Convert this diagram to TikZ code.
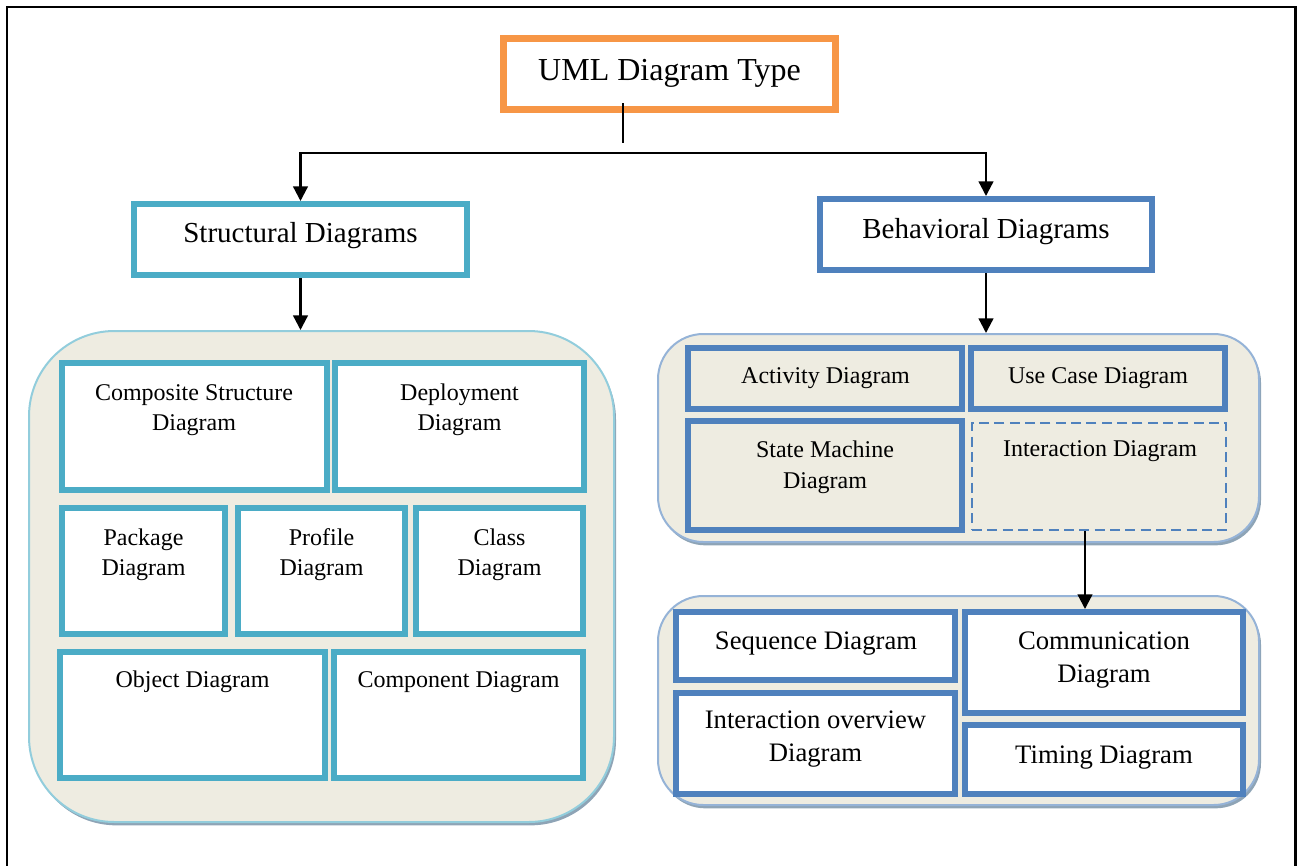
\documentclass[tikz,border=0pt]{standalone}
\usepackage{fontspec}
\setmainfont{Liberation Serif}
\usetikzlibrary{arrows.meta,shadows}
\definecolor{orangeB}{HTML}{F79646}
\definecolor{tealB}{HTML}{4BACC6}
\definecolor{blueB}{HTML}{4F81BD}
\definecolor{beige}{HTML}{EEECE1}
\definecolor{tealL}{HTML}{92CDDC}
\definecolor{blueL}{HTML}{95B3D7}
\definecolor{shade}{HTML}{8EA4B6}
\begin{document}
\begin{tikzpicture}[x=0.75pt,y=-0.75pt,
  sz/.style 2 args={minimum width=#1*0.75pt, minimum height=#2*0.75pt},
  bx/.style={draw, inner sep=0pt, line width=4.5pt},
  titlebox/.style={bx, draw=orangeB, line width=5.25pt, fill=white},
  tealbox/.style={bx, draw=tealB, fill=white},
  bluebox/.style={bx, draw=blueB, fill=white},
  bluebeige/.style={bx, draw=blueB, fill=beige},
  dashbox/.style={draw=blueB, line width=1.6pt, dash pattern=on 7.5pt off 4pt, fill=beige, inner sep=0pt},
  cont/.style={draw, line width=1.5pt, fill=beige, inner sep=0pt,
    general shadow={shadow xshift=1.5pt, shadow yshift=-2.5pt, fill=shade}},
  txt/.style={inner sep=0pt, anchor=base, align=center, font=\fontsize{18pt}{22.5pt}\selectfont},
  txtb/.style={inner sep=0pt, anchor=base, align=center, font=\fontsize{20pt}{24.75pt}\selectfont},
  txth/.style={inner sep=0pt, anchor=base, font=\fontsize{21.75pt}{26pt}\selectfont},
  conn/.style={line width=1.7pt, black},
  tip/.style={-{Triangle[length=11pt,width=11pt]}}
]
\useasboundingbox (0,0) rectangle (1300,865);
% frame
\draw[line width=2pt] (7,870) -- (7,7) -- (1295.5,7) -- (1295.5,870);

% top level
\node[titlebox, sz={332}{71}] (uml) at (669.5,74) {};
\node[inner sep=0pt, anchor=base, font=\fontsize{24pt}{28pt}\selectfont] (umlt) at (669.5,80) {UML Diagram Type};

\node[tealbox, sz={333}{71}] (struct) at (300.5,239.5) {};
\node[txth] (structt) at (300.5,242) {Structural Diagrams};
\node[bluebox, sz={332}{71}] (behav) at (986,234.5) {};
\node[txth] (behavt) at (986,238) {Behavioral Diagrams};

% connectors from top
\coordinate (vtop) at (623,103);
\coordinate (vbot) at (623,143);
\coordinate (hy) at (623,153);
\draw[conn] (vtop) -- (vbot);
\draw[conn, {Triangle[length=11pt,width=11pt]}-{Triangle[length=11pt,width=11pt]}]
  (struct.north) -- (struct.north |- hy) -- (behav.north |- hy) -- (behav.north);

% containers
\node[cont, draw=tealL, sz={585}{491}, rounded corners=64pt] (lc) at (321.5,576.5) {};
\node[cont, draw=blueL, sz={601}{208}, rounded corners=34pt] (ruc) at (958.5,438) {};
\node[cont, draw=blueL, sz={601}{209}, rounded corners=34pt] (rlc) at (958.5,700.5) {};

\draw[conn, tip] (struct.south) -- (struct.south |- lc.north);
\draw[conn, tip] (behav.south) -- (behav.south |- ruc.north);

% structural children
\node[tealbox, sz={265}{127}] (comp) at (194.5,426.5) {};
\node[txt] (compt) at (194,430) {Composite Structure\\Diagram};
\node[tealbox, sz={249}{127}] (depl) at (459.5,426.5) {};
\node[txt] (deplt) at (459.5,430) {Deployment\\Diagram};
\node[tealbox, sz={163}{126}] (pack) at (143.5,571) {};
\node[txt] (packt) at (143.5,575) {Package\\Diagram};
\node[tealbox, sz={167}{126}] (prof) at (321.5,571) {};
\node[txt] (proft) at (321.5,575) {Profile\\Diagram};
\node[tealbox, sz={167}{126}] (class) at (499.5,571) {};
\node[txt] (classt) at (499.5,575) {Class\\Diagram};
\node[tealbox, sz={265}{126}] (obj) at (192.5,715) {};
\node[txt] (objt) at (192.5,687) {Object Diagram};
\node[tealbox, sz={249}{126}] (cmpn) at (458.5,715) {};
\node[txt] (cmpnt) at (458.5,687) {Component Diagram};

% behavioral children
\node[bluebeige, sz={274}{61}] (act) at (825,378.5) {};
\node[txt] (actt) at (825.5,383) {Activity Diagram};
\node[bluebeige, sz={254}{61}] (usec) at (1098,378.5) {};
\node[txt] (usect) at (1098,383) {Use Case Diagram};
\node[bluebeige, sz={274}{109}] (state) at (825,475.5) {};
\node[txt, font=\fontsize{18pt}{23.25pt}\selectfont] (statet) at (825,488) {State Machine\\Diagram};
\node[dashbox, sz={254}{107}] (inter) at (1099,476.5) {};
\node[txt] (intert) at (1100,456) {Interaction Diagram};

% interaction children
\node[bluebox, sz={279}{68}] (seq) at (815.5,646) {};
\node[txtb] (seqt) at (816,649) {Sequence Diagram};
\node[bluebox, sz={279}{101}] (iov) at (815.5,743.5) {};
\node[txtb] (iovt) at (815.5,761) {Interaction overview\\Diagram};
\node[bluebox, sz={278}{101}] (comm) at (1104,662.5) {};
\node[txtb] (commt) at (1104,682) {Communication\\Diagram};
\node[bluebox, sz={278}{69}] (tim) at (1104,759.5) {};
\node[txtb] (timt) at (1104,763) {Timing Diagram};

\draw[conn, tip] ([xshift=-10.5pt]inter.south) -- ([xshift=-10.5pt]inter.south |- comm.north);
\end{tikzpicture}
\end{document}
